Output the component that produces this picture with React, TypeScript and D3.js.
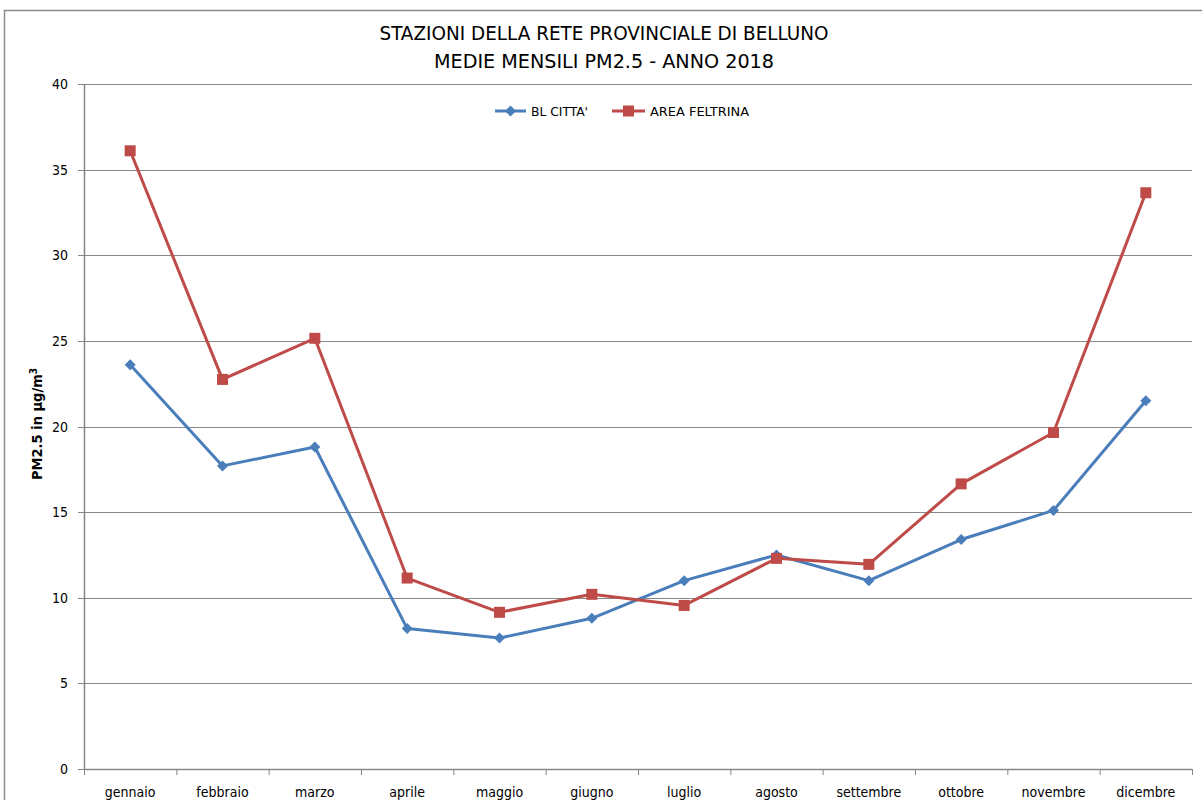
import React from "react";
import * as d3 from "d3";

const months = ["gennaio","febbraio","marzo","aprile","maggio","giugno","luglio","agosto","settembre","ottobre","novembre","dicembre"];
const blCitta = [23.6, 17.7, 18.8, 8.2, 7.65, 8.8, 11.0, 12.5, 11.0, 13.4, 15.1, 21.5];
const areaFeltrina = [36.1, 22.75, 25.15, 11.15, 9.15, 10.2, 9.55, 12.3, 11.95, 16.65, 19.65, 33.65];
const yTicks = [0, 5, 10, 15, 20, 25, 30, 35, 40];
const titleLines = ["STAZIONI DELLA RETE PROVINCIALE DI BELLUNO", "MEDIE MENSILI PM2.5 - ANNO 2018"];
const seriesNames = ["BL CITTA'", "AREA FELTRINA"];

const W = 1202, H = 800;
const left = 84, right = 1192, top = 84, bottom = 769;
const BLUE = "#4a7ebb", RED = "#be4b48";
const FONT = "'Liberation Sans Narrow', 'DejaVu Sans Condensed', 'Liberation Sans', Arial, sans-serif";
const GRID = "#878787";

export default function App() {
  const x = d3.scaleBand<string>().domain(months).range([left, right]);
  const y = d3.scaleLinear().domain([0, 40]).range([bottom, top]);
  const cx = (m: string) => (x(m) as number) + x.bandwidth() / 2;
  const line = d3.line<number>().x((_, i) => cx(months[i])).y(d => y(d));
  const diamond = (px: number, py: number, r = 5.5) => `M${px},${py - r}L${px + r},${py}L${px},${py + r}L${px - r},${py}Z`;

  return (
    <svg width={W} height={H} style={{ position: "absolute", left: 0, top: 0, background: "#fff" }}>
      <rect x={0} y={0} width={W} height={H} fill="#fff" />
      <path d={`M4.5,${H}V10.5H${W}`} fill="none" stroke="#8c8c8c" strokeWidth={1.5} />
      {titleLines.map((t, i) => (
        <text key={t} x={604} y={40 + i * 28} textAnchor="middle" fontFamily={FONT} fontSize={19} fill="#000"
          textLength={i === 0 ? 449 : 340} lengthAdjust="spacingAndGlyphs">{t}</text>
      ))}
      {yTicks.filter(t => t > 0).map(t => (
        <line key={t} x1={left} x2={right} y1={Math.round(y(t)) + 0.5} y2={Math.round(y(t)) + 0.5} stroke={GRID} strokeWidth={1} />
      ))}
      <line x1={left + 0.5} x2={left + 0.5} y1={top} y2={bottom} stroke={GRID} strokeWidth={1.5} />
      {yTicks.map(t => (
        <g key={t}>
          <line x1={left - 6} x2={left} y1={Math.round(y(t)) + 0.5} y2={Math.round(y(t)) + 0.5} stroke={GRID} />
          <text x={68} y={y(t) + 5} textAnchor="end" fontFamily={FONT} fontSize={14} fill="#000">{t}</text>
        </g>
      ))}
      <line x1={left} x2={right} y1={bottom + 0.5} y2={bottom + 0.5} stroke={GRID} strokeWidth={1.5} />
      {months.map((m, i) => (
        <g key={m}>
          <line x1={(x(m) as number) + x.bandwidth() + 0.5} x2={(x(m) as number) + x.bandwidth() + 0.5} y1={bottom} y2={bottom + 6} stroke={GRID} />
          {i === 0 && <line x1={left + 0.5} x2={left + 0.5} y1={bottom} y2={bottom + 6} stroke={GRID} />}
          <text x={cx(m)} y={797} textAnchor="middle" fontFamily={FONT} fontSize={14} fill="#000">{m}</text>
        </g>
      ))}
      <text transform={`translate(42,${424}) rotate(-90)`} textAnchor="middle" fontFamily={FONT} fontSize={14.5} fontWeight="bold" fill="#000">
        PM2.5 in µg/m<tspan dy={-5} fontSize={10}>3</tspan>
      </text>
      <path d={line(blCitta) || ""} fill="none" stroke={BLUE} strokeWidth={3} strokeLinejoin="round" />
      <path d={line(areaFeltrina) || ""} fill="none" stroke={RED} strokeWidth={3} strokeLinejoin="round" />
      {blCitta.map((v, i) => (
        <path key={"b" + i} d={diamond(cx(months[i]), y(v))} fill={BLUE} />
      ))}
      {areaFeltrina.map((v, i) => (
        <rect key={"r" + i} x={cx(months[i]) - 5.5} y={y(v) - 5.5} width={11} height={11} fill={RED} />
      ))}
      <g>
        <line x1={495} x2={526} y1={111} y2={111} stroke={BLUE} strokeWidth={3} />
        <path d={diamond(510.5, 111)} fill={BLUE} />
        <text x={531} y={116} fontFamily={FONT} fontSize={13} fill="#000" textLength={57} lengthAdjust="spacingAndGlyphs">{seriesNames[0]}</text>
        <line x1={612} x2={645} y1={111} y2={111} stroke={RED} strokeWidth={3} />
        <rect x={623} y={105.5} width={11} height={11} fill={RED} />
        <text x={650} y={116} fontFamily={FONT} fontSize={13} fill="#000" textLength={99} lengthAdjust="spacingAndGlyphs">{seriesNames[1]}</text>
      </g>
    </svg>
  );
}
